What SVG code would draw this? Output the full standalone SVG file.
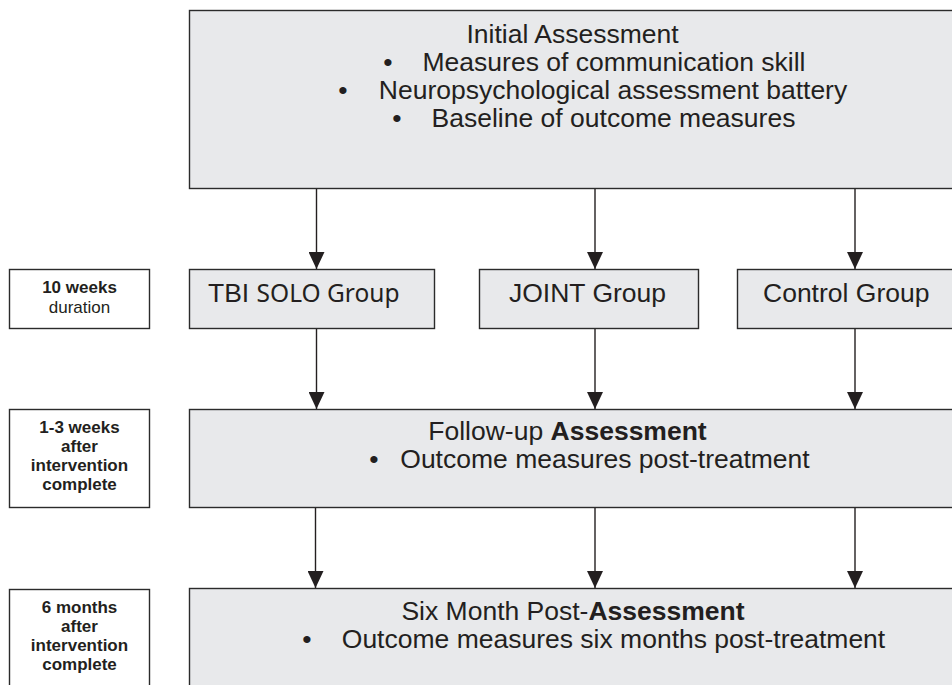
<svg xmlns="http://www.w3.org/2000/svg" width="952" height="685" viewBox="0 0 952 685">
  <defs>
    <style>
      .box { fill: #e8e9eb; stroke: #2b2b2b; stroke-width: 1.4; }
      .side { fill: #ffffff; stroke: #2b2b2b; stroke-width: 1.4; }
      .t { font-family: "Liberation Sans", Arial, sans-serif; font-size: 26.5px; fill: #231f20; }
      .m { font-family: "Noto Sans", "Open Sans", sans-serif; font-size: 24.5px; }
      .s { font-family: "Liberation Sans", Arial, sans-serif; font-size: 17px; fill: #231f20; text-anchor: middle; }
      .b { font-weight: bold; }
      .c { text-anchor: middle; }
      .link { stroke: #231f20; stroke-width: 1.4; fill: none; marker-end: url(#arrow); }
    </style>
    <marker id="arrow" markerWidth="17" markerHeight="16" refX="17" refY="8" orient="auto" markerUnits="userSpaceOnUse">
      <path d="M0,0 L17,8 L0,16 Z" fill="#231f20"/>
    </marker>
  </defs>

  <rect width="952" height="685" fill="#ffffff"/>

  <!-- timing labels on the left -->
  <g id="time-10-weeks">
    <rect class="side" x="9.5" y="269.5" width="140" height="59"/>
    <text class="s b" x="79.5" y="293">10 weeks</text>
    <text class="s" x="79.5" y="313">duration</text>
  </g>
  <g id="time-1-3-weeks">
    <rect class="side" x="9.5" y="409.5" width="140" height="98"/>
    <text class="s b" x="79.5" y="433">1-3 weeks</text>
    <text class="s b" x="79.5" y="452">after</text>
    <text class="s b" x="79.5" y="471">intervention</text>
    <text class="s b" x="79.5" y="490">complete</text>
  </g>
  <g id="time-6-months">
    <rect class="side" x="9.5" y="589.5" width="140" height="110"/>
    <text class="s b" x="79.5" y="613">6 months</text>
    <text class="s b" x="79.5" y="632">after</text>
    <text class="s b" x="79.5" y="651">intervention</text>
    <text class="s b" x="79.5" y="670">complete</text>
  </g>

  <!-- main flow -->
  <g id="initial-assessment">
    <rect class="box" x="189.5" y="10.5" width="780" height="178"/>
    <text class="t c" x="572.5" y="43">Initial Assessment</text>
    <text class="t c" x="388" y="71">•</text>
    <text class="t c" x="614" y="71">Measures of communication skill</text>
    <text class="t c" x="343" y="99">•</text>
    <text class="t c" x="613" y="99">Neuropsychological assessment battery</text>
    <text class="t c" x="397" y="127">•</text>
    <text class="t c" x="613.5" y="127">Baseline of outcome measures</text>
  </g>

  <g id="tbi-solo-group">
    <rect class="box" x="189.5" y="269.5" width="245" height="59"/>
    <text class="t" x="208" y="302">TBI <tspan class="m">SOLO Group</tspan></text>
  </g>
  <g id="joint-group">
    <rect class="box" x="479.5" y="269.5" width="219" height="59"/>
    <text class="t c" x="587.5" y="302">JOINT Group</text>
  </g>
  <g id="control-group">
    <rect class="box" x="737.5" y="269.5" width="240" height="59"/>
    <text class="t" x="763" y="302">Control Group</text>
  </g>

  <g id="follow-up-assessment">
    <rect class="box" x="189.5" y="409.5" width="780" height="98"/>
    <text class="t c" x="567.5" y="440">Follow-up <tspan class="b">Assessment</tspan></text>
    <text class="t c" x="374" y="468">•</text>
    <text class="t c" x="605" y="468">Outcome measures post-treatment</text>
  </g>

  <g id="six-month-assessment">
    <rect class="box" x="189.5" y="588.5" width="780" height="120"/>
    <text class="t c" x="573" y="620">Six Month Post-<tspan class="b">Assessment</tspan></text>
    <text class="t c" x="307" y="648">•</text>
    <text class="t c" x="613.5" y="648">Outcome measures six months post-treatment</text>
  </g>

  <!-- connectors -->
  <g id="connectors">
    <line class="link" x1="316.5" y1="189" x2="316.5" y2="269"/>
    <line class="link" x1="595" y1="189" x2="595" y2="269"/>
    <line class="link" x1="855" y1="189" x2="855" y2="269"/>
    <line class="link" x1="316.5" y1="329" x2="316.5" y2="409"/>
    <line class="link" x1="595" y1="329" x2="595" y2="409"/>
    <line class="link" x1="855" y1="329" x2="855" y2="409"/>
    <line class="link" x1="315.5" y1="508" x2="315.5" y2="588"/>
    <line class="link" x1="595" y1="508" x2="595" y2="588"/>
    <line class="link" x1="855" y1="508" x2="855" y2="588"/>
  </g>
</svg>
